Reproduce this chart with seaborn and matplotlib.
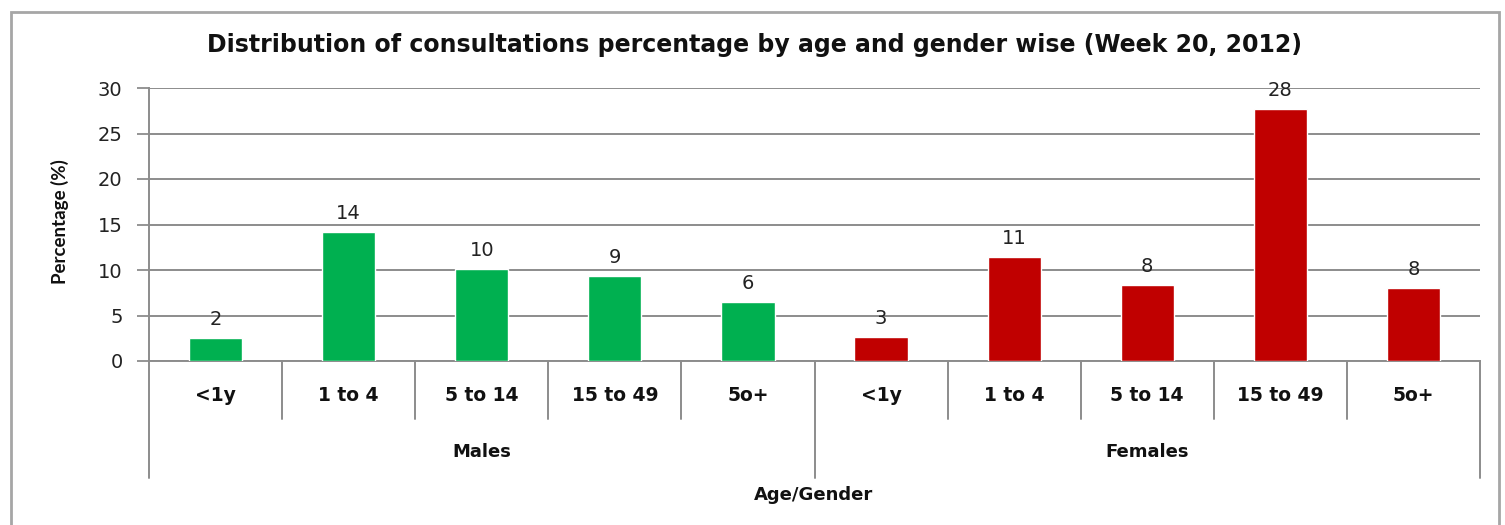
import matplotlib
matplotlib.use("Agg")
import matplotlib.pyplot as plt
import matplotlib.transforms as mtransforms
from matplotlib.patches import Rectangle
import seaborn as sns
import pandas as pd

genders = ["Males", "Females"]
age_groups = ["<1y", "1 to 4", "5 to 14", "15 to 49", "5o+"]
males_pct = [2.5, 14.2, 10.1, 9.3, 6.5]
females_pct = [2.6, 11.4, 8.3, 27.7, 8.0]
y_ticks = [0, 5, 10, 15, 20, 25, 30]
colors = {"Males": "#00B050", "Females": "#C00000"}

rows = []
for g, vals in zip(genders, [males_pct, females_pct]):
    for a, v in zip(age_groups, vals):
        rows.append({"key": f"{g}|{a}", "gender": g, "age": a, "pct": v})
df = pd.DataFrame(rows)

sns.set_style("white")
plt.rcParams["font.family"] = ["DejaVu Sans"]

fig = plt.figure(figsize=(15.05, 5.25), dpi=100)
ax = fig.add_axes([149 / 1505, 1 - 361 / 525, (1480 - 149) / 1505, (361 - 88) / 525])

sns.barplot(data=df, x="key", y="pct", hue="gender", palette=colors,
            dodge=False, width=0.4, legend=False, ax=ax, order=list(df["key"]),
            saturation=1, zorder=3)

grid_c = "#8c8c8c"
txt_c = "#111111"
ax.set_xlim(-0.5, len(df) - 0.5)
ax.set_ylim(0, 30)
ax.set_yticks(y_ticks)
ax.set_yticklabels([str(t) for t in y_ticks], fontsize=14, color="#222222")
ax.tick_params(axis="y", length=9, width=1.3, color=grid_c, pad=10, left=True)
ax.tick_params(axis="x", bottom=False, labelbottom=False)
ax.yaxis.grid(True, color=grid_c, linewidth=1.4)
ax.set_axisbelow(True)
for s in ["top", "right"]:
    ax.spines[s].set_visible(False)
for s in ["left", "bottom"]:
    ax.spines[s].set_color(grid_c)
    ax.spines[s].set_linewidth(1.4)
ax.set_xlabel("")
ax.set_ylabel("")

# data labels
for i, v in enumerate(df["pct"]):
    ax.annotate(f"{v:.0f}", (i, v), xytext=(0, 9.4), textcoords="offset points",
                ha="center", va="baseline", fontsize=14, color="#222222")

trans = mtransforms.blended_transform_factory(ax.transData, ax.transAxes)
n = len(df)
for i in range(n + 1):
    x = i - 0.5
    is_group = (i % len(age_groups) == 0)
    y_end = -0.429 if is_group else -0.212
    ax.plot([x, x], [0, y_end], transform=trans, color=grid_c, lw=1.4, clip_on=False)

for i, a in enumerate(df["age"]):
    ax.text(i, -0.128, a, transform=trans, ha="center", va="center",
            fontsize=13.5, fontweight="bold", color=txt_c)

for gi, g in enumerate(genders):
    xc = gi * len(age_groups) + (len(age_groups) - 1) / 2
    ax.text(xc, -0.333, g, transform=trans, ha="center", va="center",
            fontsize=13, fontweight="bold", color=txt_c)

fig.text(814 / 1505, 1 - 495 / 525, "Age/Gender", ha="center", va="center",
         fontsize=13, fontweight="bold", color=txt_c)
fig.text(60 / 1505, 1 - 222 / 525, "Percentage (%)", rotation=90, ha="center",
         va="center", fontsize=13.5, fontweight="bold", color=txt_c,
         family=["Lato", "DejaVu Sans"])
fig.text(755 / 1505, 1 - 45 / 525,
         "Distribution of consultations percentage by age and gender wise (Week 20, 2012)",
         ha="center", va="center", fontsize=17, fontweight="bold", color=txt_c)

fig.patches.append(Rectangle((11 / 1505, -0.05), (1499 - 11) / 1505, 1.05 - 12 / 525,
                             transform=fig.transFigure, fill=False,
                             edgecolor="#a6a6a6", linewidth=2))

fig.savefig("out.png", dpi=100)
